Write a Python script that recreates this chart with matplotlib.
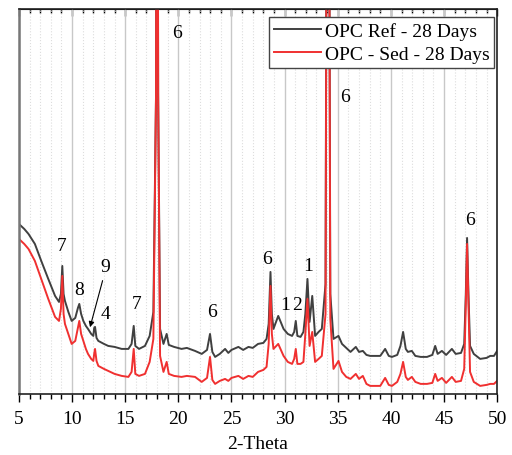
import numpy as np
import matplotlib
matplotlib.use("Agg")
import matplotlib.pyplot as plt
from matplotlib.ticker import MultipleLocator

plt.rcParams['font.family'] = ['Liberation Serif', 'DejaVu Serif']

## Donnees (2-theta, intensite en unites arbitraires)
theta_ref = [5.0, 5.5, 5.9, 6.5, 7.1, 7.76, 8.4, 8.77, 8.95, 9.08, 9.2, 9.33, 9.65, 9.96,
             10.3, 10.55, 10.68, 10.85, 11.06, 11.3, 11.5, 11.8, 12.0, 12.08, 12.16, 12.3,
             12.47, 13.0, 13.4, 14.0, 14.67, 15.3, 15.6, 15.8, 15.95, 16.3, 16.86, 17.3,
             17.65, 17.9, 18.0, 18.1, 18.28, 18.6, 18.9, 19.1, 19.6, 20.3, 20.8, 21.57,
             22.2, 22.7, 22.98, 23.2, 23.46, 23.9, 24.4, 24.7, 25.0, 25.65, 26.1, 26.6,
             27.0, 27.5, 28.0, 28.3, 28.5, 28.67, 28.8, 28.95, 29.4, 29.9, 30.3, 30.7,
             30.9, 31.05, 31.2, 31.5, 31.77, 31.95, 32.15, 32.35, 32.6, 32.87, 33.2, 33.5,
             33.85, 34.07, 34.3, 34.6, 35.07, 35.4, 35.8, 36.2, 36.7, 37.0, 37.36, 37.7,
             38.05, 39.0, 39.46, 39.8, 40.1, 40.6, 40.9, 41.15, 41.4, 41.6, 41.97, 42.3,
             42.8, 43.4, 43.9, 44.17, 44.4, 44.8, 45.2, 45.74, 46.1, 46.6, 46.9, 47.05,
             47.17, 47.3, 47.45, 47.8, 48.4, 49.0, 49.35, 49.7, 50.0]
int_ref = [170, 165, 160, 150, 133, 115, 98, 92, 100, 128, 100, 93, 82, 73,
           76, 86, 90, 80, 73, 68, 65, 60, 58, 66, 67, 56,
           53, 50, 48, 47, 45, 45, 50, 68, 48, 45, 48, 58,
           82, 300, 1000, 300, 65, 50, 60, 49, 47, 45, 46, 43,
           40, 44, 60, 42, 37, 40, 45, 41, 44, 47, 44, 47,
           46, 50, 51, 55, 70, 122, 80, 65, 78, 65, 60, 58,
           62, 73, 58, 57, 62, 80, 115, 72, 98, 58, 62, 65,
           110, 1000, 100, 55, 58, 50, 46, 42, 47, 42, 43, 39,
           38, 38, 45, 38, 37, 39, 48, 62, 45, 42, 43, 38,
           37, 37, 39, 48, 40, 43, 39, 45, 40, 41, 50, 100,
           156, 100, 48, 40, 35, 36, 38, 38, 43]

theta_sed = theta_ref
int_sed = [155, 150, 145, 133, 115, 95, 77, 73, 85, 118, 80, 70, 60, 50,
           53, 66, 73, 60, 53, 45, 40, 35, 33, 40, 45, 33,
           28, 25, 23, 20, 18, 17, 22, 45, 20, 18, 20, 32,
           55, 300, 1000, 300, 38, 22, 32, 20, 18, 17, 18, 17,
           12, 16, 37, 14, 10, 13, 15, 13, 16, 18, 15, 18,
           17, 22, 24, 27, 50, 108, 60, 45, 50, 38, 32, 30,
           35, 45, 30, 30, 32, 60, 95, 48, 62, 32, 35, 38,
           80, 1000, 75, 25, 33, 22, 17, 15, 20, 15, 18, 10,
           8, 8, 16, 9, 8, 12, 20, 32, 17, 14, 17, 12,
           10, 10, 11, 20, 13, 16, 11, 17, 12, 13, 25, 90,
           150, 90, 22, 12, 8, 9, 10, 10, 13]

# Identification des pics : (texte, 2-theta, intensite)
pic_labels = ['6', '6', '6', '6', '1', '2', '1', '6', '7', '7', '8', '9', '4']
pic_theta = [19.85, 35.7, 47.47, 28.3, 30.05, 31.15, 32.18, 23.14, 16.08, 9.02, 10.65, 13.1, 13.1]
pic_int = [362, 298, 174, 135, 89, 89, 128, 82, 90, 148, 104, 127, 80]

#=================================================================================================
fig = plt.figure(figsize=(5.12, 4.56), dpi=100)
ax = fig.add_axes([0.037, 0.134, 0.934, 0.844])

ax.plot(theta_ref, int_ref, c='#404040', lw=1.4, label='OPC Ref - 28 Days')
ax.plot(theta_sed, int_sed, c='#f03030', lw=1.4, label='OPC - Sed - 28 Days')

for txt, tx, ty in zip(pic_labels, pic_theta, pic_int):
    ax.text(tx, ty, txt, fontsize=14, ha='center', va='center')

# fleche pour le pic 9
ax.annotate('', xy=(11.62, 64), xytext=(12.94, 116),
            arrowprops=dict(arrowstyle='-|>', color='k', lw=0.8, mutation_scale=8))

ax.set_xlim(5, 50)
ax.set_ylim(0, 385)
ax.set_yticks([])

ax.xaxis.set_major_locator(MultipleLocator(5))
ax.xaxis.set_minor_locator(MultipleLocator(1))
ax.tick_params(axis='x', which='major', direction='out', length=6, width=1, labelsize=14, pad=5.5)
ax.tick_params(axis='x', which='minor', direction='out', length=3.5, width=1)

# axe du haut avec graduations vers l'interieur
top = ax.secondary_xaxis('top')
top.xaxis.set_major_locator(MultipleLocator(5))
top.xaxis.set_minor_locator(MultipleLocator(1))
top.tick_params(axis='x', which='major', direction='in', length=5, width=1, labeltop=False)
top.tick_params(axis='x', which='minor', direction='in', length=3, width=1)

ax.grid(which='major', axis='x', color='#c8c8c8', lw=1)
ax.grid(which='minor', axis='x', color='#dddddd', lw=0.8, ls=':')
ax.set_axisbelow(True)

for s in ['top', 'bottom', 'right']:
    ax.spines[s].set_color('#222222')
    ax.spines[s].set_linewidth(1.2)
ax.spines['left'].set_color('#777777')
ax.spines['left'].set_linewidth(1.8)

ax.set_xlabel('2-Theta', fontsize=14, labelpad=6)

leg = ax.legend(loc='upper right', bbox_to_anchor=(0.994, 0.979), fontsize=14, fancybox=False,
                framealpha=1, edgecolor='#444444', handlelength=2.4, handletextpad=0.2,
                borderpad=0.25, labelspacing=0.3, borderaxespad=0)
leg.get_frame().set_linewidth(1)

plt.savefig('out.png', dpi=100)
